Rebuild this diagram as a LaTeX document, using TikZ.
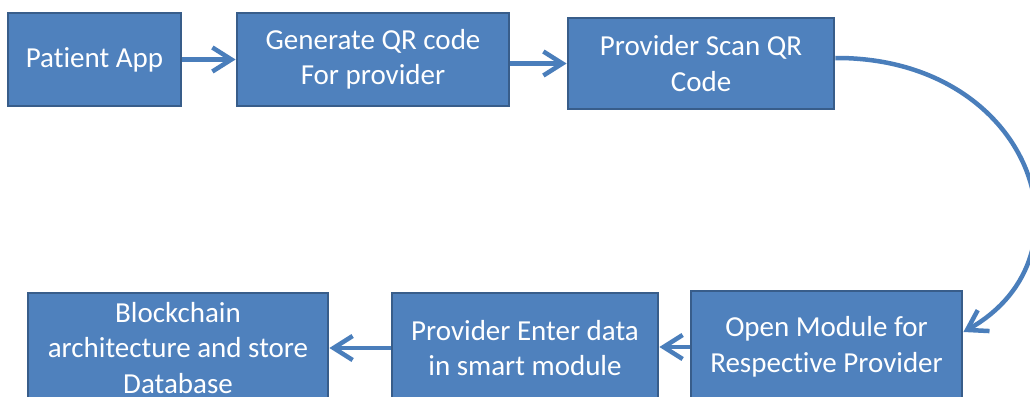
\documentclass[tikz,border=0pt]{standalone}
\usepackage{fontspec}
\setmainfont{Carlito}[RawFeature={-liga;-clig;-calt;-dlig}]
\usetikzlibrary{arrows.meta}
\definecolor{boxfill}{HTML}{4F81BD}
\definecolor{boxline}{HTML}{385D8A}
\definecolor{arrowc}{HTML}{4A7EBB}
\tikzset{
  flowbox/.style={rectangle, fill=boxfill, draw=boxline, line width=2.8pt,
    text=white, align=center, inner sep=0pt,
    font=\fontsize{29}{35.5}\selectfont},
  flowarrow/.style={draw=arrowc, line width=4.5pt,
    -{Straight Barb[length=19pt, width=24pt, line width=4.5pt]}},
}
\begin{document}
\begin{tikzpicture}[x=1pt, y=-1pt]
\useasboundingbox (0,0) rectangle (1030,396);
\fill[white] (0,0) rectangle (1030,396);
\node[flowbox, minimum width=173pt, minimum height=93pt] (b1) at (94.5,59.5) {Patient App};
\node[flowbox, minimum width=272pt, minimum height=93pt] (b2) at (373,59.5) {Generate QR code\\For provider};
\node[flowbox, minimum width=266pt, minimum height=91pt] (b3) at (701,63.5) {Provider Scan QR\\Code};
\node[flowbox, minimum width=271pt, minimum height=112pt] (b4) at (826.5,347) {Open Module for\\Respective Provider};
\node[flowbox, minimum width=266pt, minimum height=110pt] (b5) at (525,348) {Provider Enter data\\in smart module};
\node[flowbox, minimum width=300pt, minimum height=110pt] (b6) at (178,348) {Blockchain\\architecture and store\\Database};
\draw[flowarrow] (b1.east) -- (b2.west);
\draw[flowarrow] (b2.east |- b3) -- (b3.west);
\draw[flowarrow] ([yshift=5.5pt]b3.east) .. controls (1030,57) and (1100,255) .. ([yshift=15pt]b4.east);
\draw[flowarrow] (b4.west) -- (b5.east |- b4);
\draw[flowarrow] (b5.west) -- (b6.east |- b5);
\end{tikzpicture}
\end{document}
